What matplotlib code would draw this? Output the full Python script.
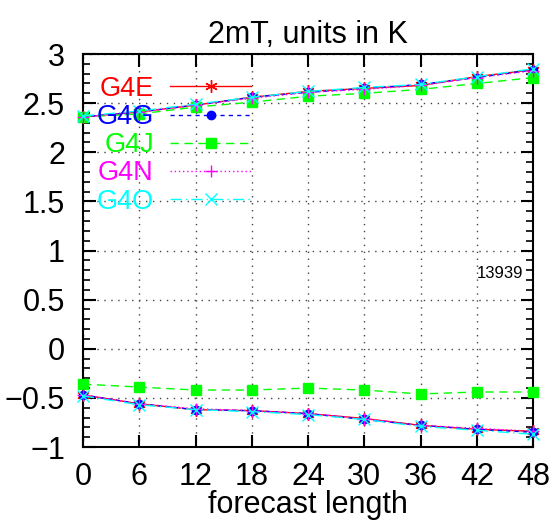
import matplotlib
matplotlib.use('Agg')
import matplotlib.pyplot as plt
from matplotlib.ticker import MultipleLocator

plt.rcParams['font.family'] = ['Liberation Sans', 'DejaVu Sans']

# forecast lengths (hours)
steps = [0, 6, 12, 18, 24, 30, 36, 42, 48]

# upper curves (std dev) and lower curves (mean error)
g4e_hi = [2.36, 2.41, 2.48, 2.56, 2.62, 2.65, 2.68, 2.77, 2.84]
g4g_hi = [2.36, 2.41, 2.48, 2.56, 2.61, 2.65, 2.69, 2.76, 2.84]
g4j_hi = [2.36, 2.39, 2.46, 2.51, 2.57, 2.60, 2.64, 2.70, 2.76]
g4n_hi = [2.36, 2.41, 2.48, 2.55, 2.61, 2.64, 2.68, 2.76, 2.83]
g4o_hi = [2.37, 2.42, 2.49, 2.56, 2.62, 2.66, 2.69, 2.77, 2.85]

g4e_lo = [-0.47, -0.56, -0.62, -0.63, -0.66, -0.71, -0.78, -0.82, -0.84]
g4g_lo = [-0.47, -0.56, -0.62, -0.63, -0.66, -0.72, -0.78, -0.82, -0.85]
g4j_lo = [-0.36, -0.39, -0.42, -0.42, -0.40, -0.42, -0.46, -0.44, -0.44]
g4n_lo = [-0.47, -0.56, -0.61, -0.63, -0.66, -0.71, -0.78, -0.81, -0.84]
g4o_lo = [-0.48, -0.57, -0.62, -0.64, -0.67, -0.72, -0.79, -0.83, -0.87]

yticks = [-1, -0.5, 0, 0.5, 1, 1.5, 2, 2.5, 3]
ytick_labels = ['\u22121', '\u22120.5', '0', '0.5', '1', '1.5', '2', '2.5', '3']

labels = ['G4E', 'G4G', 'G4J', 'G4N', 'G4O']
colors = ['#ff0000', '#0000ff', '#00ff00', '#ff00ff', '#00ffff']
styles = ['-', (0, (3, 3)), (0, (6, 4)), (0, (1, 2)), (0, (8, 3, 1, 3))]
markers = [(6, 2, 0), 'o', 's', '+', 'x']
msizes = [9, 6, 7, 9, 8]
hi = [g4e_hi, g4g_hi, g4j_hi, g4n_hi, g4o_hi]
lo = [g4e_lo, g4g_lo, g4j_lo, g4n_lo, g4o_lo]

fig = plt.figure(figsize=(5.57, 5.23), dpi=100)
ax = fig.add_axes([0.149, 0.1453, 0.808, 0.7514])

for i in range(len(labels)):
    ax.plot(steps, hi[i], color=colors[i], linestyle=styles[i], marker=markers[i],
            markersize=msizes[i], linewidth=1, label=labels[i], clip_on=False, zorder=3)
    ax.plot(steps, lo[i], color=colors[i], linestyle=styles[i], marker=markers[i],
            markersize=msizes[i], linewidth=1, clip_on=False, zorder=3)

ax.set_xlim(0, 48)
ax.set_ylim(-1, 3)
ax.set_xticks(steps)
ax.set_yticks(yticks)
ax.set_yticklabels(ytick_labels)
ax.yaxis.set_minor_locator(MultipleLocator(0.1))
ax.tick_params(which='both', direction='in', top=True, right=True, labelsize=22)
ax.tick_params(which='major', length=9, width=1.5)
ax.tick_params(which='minor', length=5, width=1.2)
ax.tick_params(axis='y', pad=13)
ax.tick_params(axis='x', pad=11)
for s in ax.spines.values():
    s.set_linewidth(1.5)
ax.grid(True, which='major', color='#444444', linestyle=(0, (1, 4)), linewidth=1)

ax.set_title('2mT, units in K', fontsize=22, pad=8)
ax.set_xlabel('forecast length', fontsize=22, labelpad=-2)
ax.text(47.0, 0.77, '13939', fontsize=12, ha='right', va='center')

leg = ax.legend(loc='upper left', bbox_to_anchor=(0.006, 0.972), frameon=False, fontsize=19.5,
                markerfirst=False, handlelength=3.0, handletextpad=0.6,
                labelspacing=0.08, borderaxespad=0)
for t, c in zip(leg.get_texts(), colors):
    t.set_color(c)

fig.savefig('out.png', dpi=100)
